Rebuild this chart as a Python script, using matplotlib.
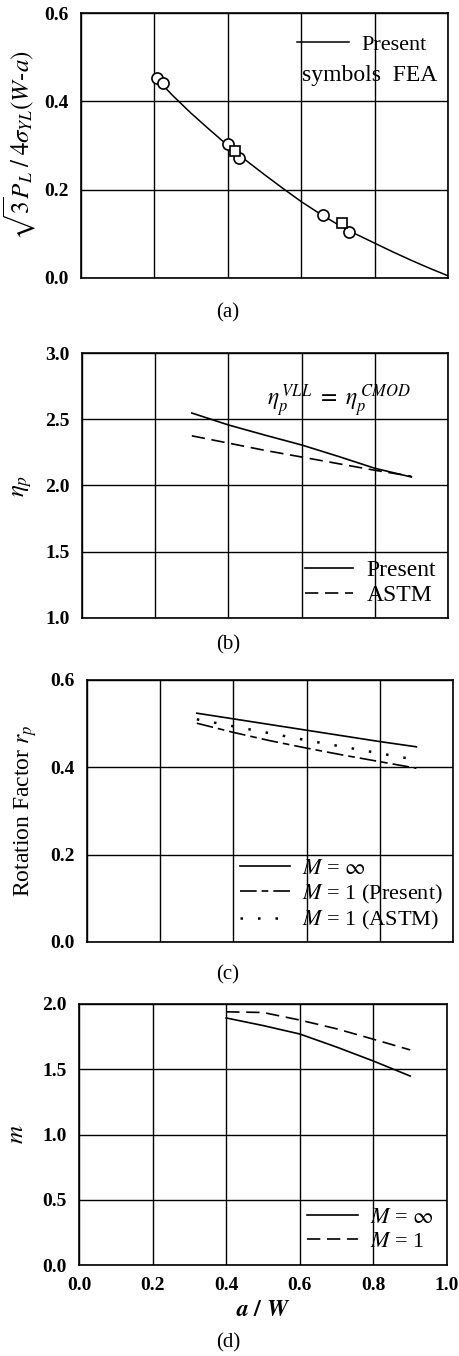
import numpy as np
import matplotlib
matplotlib.use('Agg')
import matplotlib.pyplot as plt

plt.rcParams['font.family'] = ['Liberation Serif', 'DejaVu Serif']
plt.rcParams['mathtext.fontset'] = 'stix'

# (a) limit load
a_curve_x = [0.21, 0.25, 0.3, 0.35, 0.4, 0.45, 0.5, 0.55, 0.6, 0.65, 0.7, 0.75, 0.8, 0.85, 0.9, 0.95, 1.0]
a_curve_y = [0.448, 0.413, 0.373, 0.336, 0.300, 0.266, 0.234, 0.203, 0.173, 0.146, 0.121, 0.099, 0.079,
             0.059, 0.040, 0.022, 0.005]
fea_circ_x = [0.207, 0.224, 0.40, 0.43, 0.659, 0.731]
fea_circ_y = [0.453, 0.442, 0.303, 0.272, 0.143, 0.104]
fea_sq_x = [0.42, 0.711]
fea_sq_y = [0.288, 0.124]

# (b) eta_p
b_x = [0.3, 0.4, 0.5, 0.6, 0.7, 0.8, 0.9]
b_present = [2.547, 2.457, 2.38, 2.306, 2.22, 2.13, 2.064]
b_astm = [2.375, 2.32, 2.265, 2.215, 2.165, 2.115, 2.07]

# (c) rotation factor
c_x = [0.3, 0.4, 0.5, 0.6, 0.7, 0.8, 0.9]
c_minf = [0.524, 0.511, 0.498, 0.485, 0.472, 0.459, 0.447]
c_m1_present = [0.501, 0.480, 0.461, 0.444, 0.428, 0.413, 0.398]
c_m1_astm = [0.510, 0.494, 0.478, 0.462, 0.447, 0.432, 0.417]

# (d) m factor
d_x = [0.4, 0.5, 0.6, 0.7, 0.8, 0.9]
d_minf = [1.893, 1.835, 1.77, 1.67, 1.563, 1.448]
d_m1 = [1.94, 1.935, 1.877, 1.81, 1.73, 1.648]

W, H = 459, 1356
fig = plt.figure(figsize=(W / 100, H / 100), dpi=100)

def make_ax(left, top, right, bottom):
    ax = fig.add_axes([left / W, 1 - bottom / H, (right - left) / W, (bottom - top) / H])
    ax.set_xlim(0, 1.0)
    ax.set_xticks([0, 0.2, 0.4, 0.6, 0.8, 1.0])
    ax.grid(True, color='black', linewidth=1.0)
    ax.tick_params(length=0, labelsize=14, pad=9)
    for s in ax.spines.values():
        s.set_linewidth(1.2)
    return ax

def caption(txt, y):
    fig.text(228 / W, 1 - y / H, txt, ha='center', va='center', fontsize=15)

def ticklabels(ax, yl, xl=None):
    ax.set_yticklabels(yl, fontweight='bold')
    if xl is None:
        ax.set_xticklabels([])
    else:
        ax.set_xticklabels(xl, fontweight='bold')

# ---- (a)
ax = make_ax(81, 13, 448, 278)
ax.set_ylim(0, 0.6)
ax.set_yticks([0.0, 0.2, 0.4, 0.6])
ticklabels(ax, ['0.0', '0.2', '0.4', '0.6'])
ax.plot(a_curve_x, a_curve_y, color='black', lw=1.1, label='Present')
ax.plot(fea_circ_x, fea_circ_y, 'o', mfc='white', mec='black', ms=8, mew=1.2)
ax.plot(fea_sq_x, fea_sq_y, 's', mfc='white', mec='black', ms=7, mew=1.2)
ax.set_ylabel(r'$\sqrt{3}P_L\;/\;4\sigma_{YL}(W\text{-}a)$', fontsize=18, labelpad=4)
ax.legend(loc='upper right', frameon=False, fontsize=16, handlelength=2.35,
          borderaxespad=0.65, handletextpad=0.55, borderpad=0.3)
ax.text(0.97, 0.766, 'symbols  FEA', transform=ax.transAxes, ha='right', va='center',
        fontsize=17)
caption('(a)', 313)

# ---- (b)
ax = make_ax(82, 353, 448, 618)
ax.set_ylim(1.0, 3.0)
ax.set_yticks([1.0, 1.5, 2.0, 2.5, 3.0])
ticklabels(ax, ['1.0', '1.5', '2.0', '2.5', '3.0'])
ax.plot(b_x, b_present, color='black', lw=1.2, label='Present')
ax.plot(b_x, b_astm, color='black', lw=1.2, dashes=(8, 4), label='ASTM')
ax.text(0.505, 2.6, r'$\eta_p^{\,VLL}\ =\ \eta_p^{\,CMOD}$', fontsize=17)
ax.set_ylabel(r'$\eta_p$', fontsize=18, labelpad=8)
ax.legend(loc='lower right', fontsize=17, handlelength=2.0, frameon=False,
          borderaxespad=0.1, labelspacing=0.15, handletextpad=0.6)
caption('(b)', 645)

# ---- (c)
ax = make_ax(87, 680, 453, 942)
ax.set_ylim(0, 0.6)
ax.set_yticks([0.0, 0.2, 0.4, 0.6])
ticklabels(ax, ['0.0', '0.2', '0.4', '0.6'])
ax.plot(c_x, c_minf, color='black', lw=1.2, label=r'$M$ = $\infty$')
ax.plot(c_x, c_m1_present, color='black', lw=1.2, dashes=(10, 3, 4, 3),
        label=r'$M$ = 1 (Present)')
ax.plot(c_x, c_m1_astm, color='black', lw=1.8, dashes=(1, 6), label=r'$M$ = 1 (ASTM)')
ax.set_ylabel(r'Rotation Factor $r_p$', fontsize=17, labelpad=8)
ax.legend(loc='lower right', fontsize=16, handlelength=2.25, frameon=False,
          borderaxespad=0.05, labelspacing=0.15, handletextpad=0.55)
caption('(c)', 975)

# ---- (d)
ax = make_ax(79, 1004, 447, 1265)
ax.set_ylim(0, 2.0)
ax.set_yticks([0.0, 0.5, 1.0, 1.5, 2.0])
ticklabels(ax, ['0.0', '0.5', '1.0', '1.5', '2.0'], ['0.0', '0.2', '0.4', '0.6', '0.8', '1.0'])
ax.plot(d_x, d_minf, color='black', lw=1.2, label=r'$M$ = $\infty$')
ax.plot(d_x, d_m1, color='black', lw=1.2, dashes=(8, 4), label=r'$M$ = 1')
ax.set_ylabel(r'$m$', fontsize=18, labelpad=10)
ax.set_xlabel(r'$\boldsymbol{a\ /\ W}$', fontsize=17, labelpad=4)
ax.legend(loc='lower right', fontsize=16, handlelength=2.3, frameon=False,
          borderaxespad=0.2, labelspacing=0.15, handletextpad=0.55)
caption('(d)', 1343)

fig.savefig('out.png', dpi=100)
